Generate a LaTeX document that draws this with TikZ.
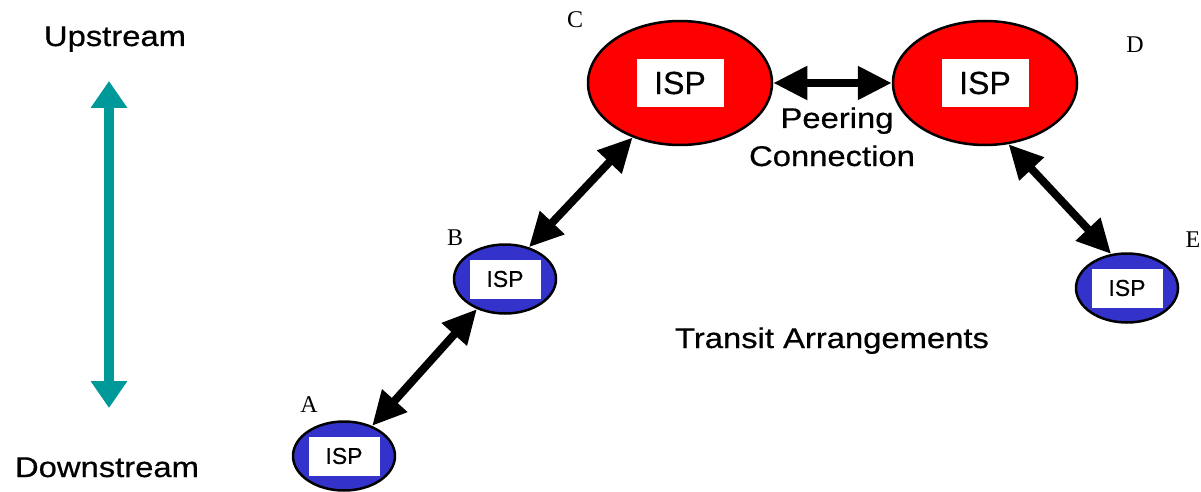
\documentclass[tikz,border=0pt]{standalone}
\usepackage{fontspec}
\setmainfont{Liberation Sans}[FakeBold=0.4]
\newfontfamily\widefont{Liberation Sans}[FakeStretch=1.15,FakeBold=0.6]
\newfontfamily\letterfont{Liberation Serif}
\usetikzlibrary{shapes.geometric,arrows.meta}
\definecolor{ispred}{HTML}{FF0000}
\definecolor{ispblue}{HTML}{3333CC}
\definecolor{teal2}{HTML}{009999}
\tikzset{
  bigisp/.style={ellipse,draw=black,line width=2.5pt,fill=ispred,minimum width=184pt,minimum height=124pt,inner sep=0pt},
  smallisp/.style={ellipse,draw=black,line width=2.5pt,fill=ispblue,minimum width=102pt,minimum height=69pt,inner sep=0pt},
  bigbox/.style={fill=white,minimum width=87pt,minimum height=48pt,inner sep=0pt,font=\fontsize{32}{36}\selectfont},
  smallbox/.style={fill=white,minimum width=71pt,minimum height=39pt,inner sep=0pt,font=\fontsize{23}{26}\selectfont},
  letterlbl/.style={font=\letterfont\fontsize{24}{28}\selectfont,inner sep=0pt},
  widelbl/.style={font=\widefont\fontsize{28.5}{32}\selectfont,inner sep=0pt,anchor=base},
  linkarrow/.style={line width=8pt,{Triangle[length=34pt,width=32pt]}-{Triangle[length=34pt,width=32pt]}},
  streamarrow/.style={draw=teal2,line width=10pt,{Triangle[length=27pt,width=35pt]}-{Triangle[length=27pt,width=35pt]}}
}
\begin{document}
\begin{tikzpicture}[x=1pt,y=-1pt]
\useasboundingbox (0,0) rectangle (1201,492);
% ellipses
\node[bigisp] (C) at (680,83) {};
\node[bigbox] (Cbox) at (C.center) {ISP};
\node[bigisp] (D) at (985,83) {};
\node[bigbox] (Dbox) at (D.center) {ISP};
\node[smallisp] (B) at (505,279) {};
\node[smallbox] (Bbox) at (B.center) {ISP};
\node[smallisp] (A) at (344,456) {};
\node[smallbox] (Abox) at (A.center) {ISP};
\node[smallisp] (E) at (1127,288) {};
\node[smallbox] (Ebox) at (E.center) {ISP};
% letters
\node[letterlbl] (lC) at (575,20) {C};
\node[letterlbl] (lD) at (1135,45) {D};
\node[letterlbl] (lB) at (455,238) {B};
\node[letterlbl] (lE) at (1193,240) {E};
\node[letterlbl] (lA) at (309,405) {A};
% connectors
\draw[linkarrow] (C.east) -- (D.west);
\draw[linkarrow] (C.229) -- (B.53);
\draw[linkarrow] (B.227) -- (A.47);
\draw[linkarrow] (D.291) -- (E.115);
% texts
\node[widelbl] (peer) at (837,128) {Peering};
\node[widelbl] (conn) at (832,166) {Connection};
\node[widelbl] (transit) at (832,348) {Transit Arrangements};
\node[widelbl] (up) at (115,46) {Upstream};
\node[widelbl] (down) at (107,477) {Downstream};
% stream arrow
\coordinate (upend) at (109,81);
\coordinate (downend) at (109,408);
\draw[streamarrow] (upend) -- (downend);
\end{tikzpicture}
\end{document}
